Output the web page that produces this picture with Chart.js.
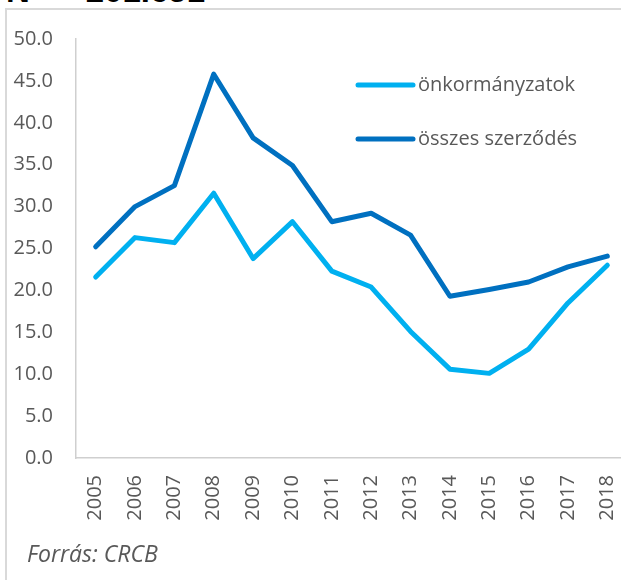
<!DOCTYPE html>
<html>
<head>
<meta charset="utf-8">
<script src="https://cdn.jsdelivr.net/npm/chart.js@4.4.0/dist/chart.umd.min.js"></script>
<style>
  html, body { margin: 0; padding: 0; background: #ffffff; overflow: hidden; width: 621px; height: 580px; }
  #wrap { position: relative; width: 621px; height: 580px; overflow: hidden; }
  #frame { position: absolute; left: 5px; top: 8px; width: 800px; height: 800px; border: 2px solid #d9d9d9; box-sizing: border-box; }
  #topcut { position: absolute; left: 6px; top: -24px; font-family: "Liberation Sans", Arial, sans-serif; font-weight: bold; font-size: 33px; color: #000; white-space: pre; line-height: 30px; }
  #chart { position: absolute; left: 0; top: 0; }
  #source { position: absolute; left: 27px; top: 537px; font-family: "Open Sans", sans-serif; font-style: italic; font-size: 23px; color: #595959; line-height: 32px; }
</style>
</head>
<body>
<div id="wrap">
  <div id="topcut">N  =  201.651</div>
  <div id="frame"></div>
  <canvas id="chart" width="660" height="580"></canvas>
  <div id="source">Forrás: CRCB</div>
</div>
<script>
const years = ['2005','2006','2007','2008','2009','2010','2011','2012','2013','2014','2015','2016','2017','2018'];
const onkormanyzatok = [21.6, 26.3, 25.7, 31.6, 23.8, 28.2, 22.3, 20.4, 15.1, 10.6, 10.1, 13.0, 18.5, 23.0];
const osszesSzerzodes = [25.2, 30.0, 32.5, 45.8, 38.2, 34.9, 28.2, 29.2, 26.6, 19.3, 20.1, 21.0, 22.8, 24.1];
const seriesNames = ['önkormányzatok', 'összes szerződés'];
const seriesColors = ['#00B0F0', '#0070C0'];
const yMin = 0, yMax = 50, yStep = 5;

const legendPlugin = {
  id: 'insideLegend',
  afterDraw(chart) {
    const ctx = chart.ctx;
    const items = chart.data.datasets;
    const x0 = 358, x1 = 413, ys = [85, 139];
    ctx.save();
    items.forEach((ds, i) => {
      ctx.strokeStyle = ds.borderColor;
      ctx.lineWidth = 5;
      ctx.lineCap = 'round';
      ctx.beginPath();
      ctx.moveTo(x0, ys[i]);
      ctx.lineTo(x1, ys[i]);
      ctx.stroke();
      ctx.fillStyle = '#595959';
      ctx.font = '20px "Open Sans", sans-serif';
      ctx.textBaseline = 'middle';
      ctx.textAlign = 'left';
      ctx.fillText(ds.label, x1 + 5, ys[i]);
    });
    ctx.restore();
  }
};

new Chart(document.getElementById('chart'), {
  type: 'line',
  data: {
    labels: years,
    datasets: [
      { label: seriesNames[0], data: onkormanyzatok, borderColor: seriesColors[0], backgroundColor: seriesColors[0],
        borderWidth: 5, pointRadius: 0, tension: 0, borderCapStyle: 'round', borderJoinStyle: 'round', order: 2 },
      { label: seriesNames[1], data: osszesSzerzodes, borderColor: seriesColors[1], backgroundColor: seriesColors[1],
        borderWidth: 5, pointRadius: 0, tension: 0, borderCapStyle: 'round', borderJoinStyle: 'round', order: 1 }
    ]
  },
  options: {
    responsive: false,
    animation: false,
    devicePixelRatio: 1,
    layout: { padding: { left: 0, top: 39, right: 33, bottom: 0 } },
    plugins: { legend: { display: false }, tooltip: { enabled: false } },
    scales: {
      x: {
        offset: true,
        grid: { display: false, drawTicks: false },
        border: { display: true, color: '#cfcfcf', width: 1.5 },
        ticks: { color: '#595959', font: { family: 'Open Sans', size: 20 }, minRotation: 90, maxRotation: 90, padding: 17, autoSkip: false },
        afterFit(scale) { scale.height = 122; }
      },
      y: {
        min: yMin, max: yMax,
        grid: { display: false, drawTicks: false },
        border: { display: true, color: '#cfcfcf', width: 1.5 },
        ticks: { stepSize: yStep, color: '#595959', font: { family: 'Open Sans', size: 20 }, padding: 23,
          callback: (v) => Number(v).toFixed(1) },
        afterFit(scale) { scale.width = 76; }
      }
    }
  },
  plugins: [legendPlugin]
});
</script>
</body>
</html>
